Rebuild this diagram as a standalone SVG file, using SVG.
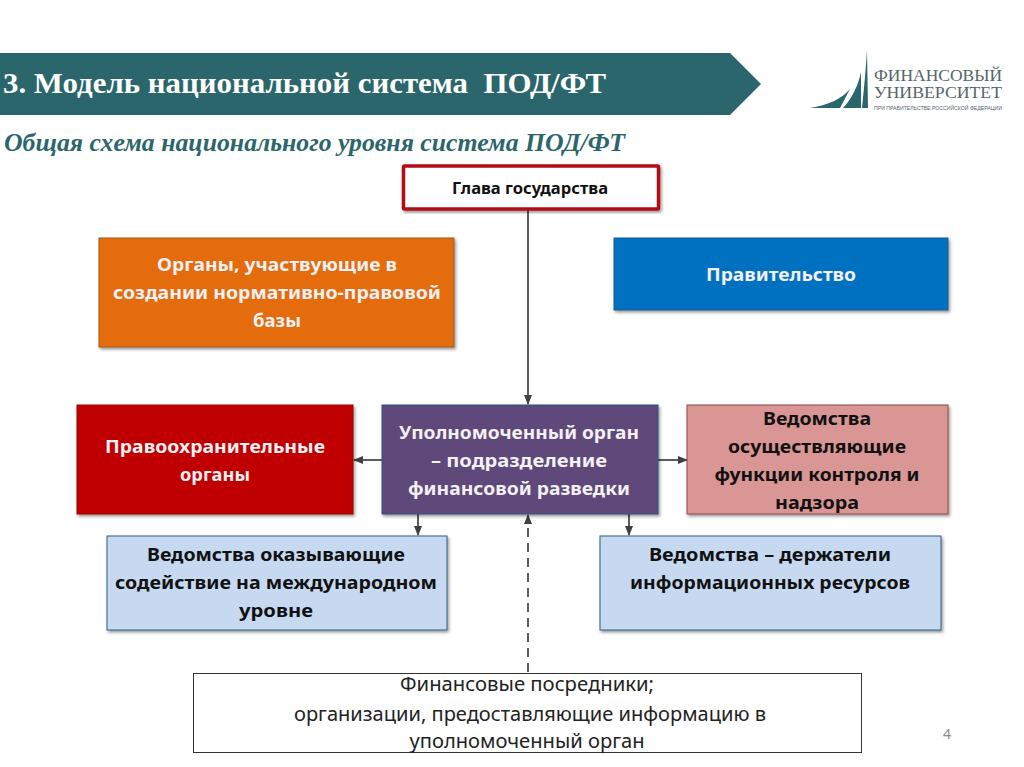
<svg xmlns="http://www.w3.org/2000/svg" width="1024" height="767" viewBox="0 0 1024 767">
<defs>
<filter id="sh" x="-5%" y="-5%" width="110%" height="115%"><feDropShadow dx="1.5" dy="2" stdDeviation="1.5" flood-color="#000" flood-opacity="0.4"/></filter>
<marker id="ah" markerWidth="10" markerHeight="8" refX="9" refY="4" orient="auto" markerUnits="userSpaceOnUse"><path d="M0 0L10 4L0 8Z" fill="#404040"/></marker>
</defs>
<style>
.b{font-family:"Noto Sans","Open Sans",sans-serif;font-weight:700;font-size:18px;text-anchor:middle}
.w{fill:#f4f0f4}.k{fill:#111}
.box{stroke-width:1;filter:url(#sh)}
.c{stroke:#333;stroke-width:1.6;fill:none;marker-end:url(#ah)}
.logo{font-family:"Liberation Serif",serif;fill:#55666a;text-anchor:start}
</style>
<rect width="1024" height="767" fill="#fff"/>
<g id="banner"><path d="M0 53H730L761 84L730 115H0Z" fill="#2b666c"/>
<text x="3" y="93" font-family="Liberation Serif,serif" font-weight="700" font-size="29" fill="#fff" textLength="603" lengthAdjust="spacingAndGlyphs">3. Модель национальной система&#160; ПОД/ФТ</text></g>
<text x="4" y="151" font-family="Liberation Serif,serif" font-weight="700" font-style="italic" font-size="25.500" fill="#2b666c" textLength="621" lengthAdjust="spacingAndGlyphs">Общая схема национального уровня система ПОД/ФТ</text>
<g id="logo">
<path d="M810 108C828 105 842 99 850 89L840 108Z" fill="#2b666c"/>
<path d="M843 108C852 98 858 86 861 72V108Z" fill="#2b666c"/>
<path d="M862 108C864 88 866 68 867 50L868 108Z" fill="#2b666c"/>
<text class="logo" x="874" y="81" font-size="16" textLength="128" lengthAdjust="spacingAndGlyphs">ФИНАНСОВЫЙ</text>
<text class="logo" x="874" y="98" font-size="16" textLength="128" lengthAdjust="spacingAndGlyphs">УНИВЕРСИТЕТ</text>
<text x="874" y="110" font-family="Liberation Sans,sans-serif" font-size="5.500" fill="#55666a" textLength="128" lengthAdjust="spacingAndGlyphs">ПРИ ПРАВИТЕЛЬСТВЕ РОССИЙСКОЙ ФЕДЕРАЦИИ</text>
</g>
<g id="connectors">
<path class="c" d="M528 210V404"/>
<path class="c" d="M382 460H354"/>
<path class="c" d="M658 460H687"/>
<path class="c" d="M418 514V535"/>
<path class="c" d="M629 514V535"/>
<path class="c" d="M528 672V515" stroke-dasharray="9 6"/>
</g>
<g id="n1"><rect class="box" x="403.500" y="166" width="255" height="43" rx="1" fill="#fff" stroke="#b00d14" style="stroke-width:3.500"/>
<text class="b k" x="530" y="194" style="font-size:15.500px" textLength="156" lengthAdjust="spacingAndGlyphs">Глава государства</text></g>
<g id="n2"><rect class="box" x="99" y="238" width="355" height="109" fill="#e46c0a" stroke="#9a5a20"/>
<text class="b w" x="277" y="271" textLength="240" lengthAdjust="spacingAndGlyphs">Органы, участвующие в</text>
<text class="b w" x="277" y="299" textLength="328" lengthAdjust="spacingAndGlyphs">создании нормативно-правовой</text>
<text class="b w" x="277" y="327" textLength="48" lengthAdjust="spacingAndGlyphs">базы</text></g>
<g id="n3"><rect class="box" x="614" y="238" width="334" height="72" fill="#0070c0" stroke="#1f5a8a"/>
<text class="b w" x="781" y="281" textLength="150" lengthAdjust="spacingAndGlyphs">Правительство</text></g>
<g id="n4"><rect class="box" x="77" y="405" width="276" height="109" fill="#c00000" stroke="#a00000"/>
<text class="b w" x="215" y="453" textLength="220" lengthAdjust="spacingAndGlyphs">Правоохранительные</text>
<text class="b w" x="215" y="481" textLength="70" lengthAdjust="spacingAndGlyphs">органы</text></g>
<g id="n5"><rect class="box" x="382" y="405" width="276" height="109" fill="#5f497a" stroke="#2f4f78"/>
<text class="b w" x="519" y="439" textLength="240" lengthAdjust="spacingAndGlyphs">Уполномоченный орган</text>
<text class="b w" x="519" y="467" textLength="176" lengthAdjust="spacingAndGlyphs">– подразделение</text>
<text class="b w" x="519" y="495" textLength="222" lengthAdjust="spacingAndGlyphs">финансовой разведки</text></g>
<g id="n6"><rect class="box" x="687" y="405" width="261" height="109" fill="#d99694" stroke="#8a4a48"/>
<text class="b k" x="817" y="425" textLength="108" lengthAdjust="spacingAndGlyphs">Ведомства</text>
<text class="b k" x="817" y="453" textLength="178" lengthAdjust="spacingAndGlyphs">осуществляющие</text>
<text class="b k" x="817" y="481" textLength="205" lengthAdjust="spacingAndGlyphs">функции контроля и</text>
<text class="b k" x="817" y="509" textLength="84" lengthAdjust="spacingAndGlyphs">надзора</text></g>
<g id="n7"><rect class="box" x="107" y="536" width="340" height="94" fill="#c6d9f1" stroke="#2f5f80"/>
<text class="b k" x="276" y="561" textLength="258" lengthAdjust="spacingAndGlyphs">Ведомства оказывающие</text>
<text class="b k" x="276" y="589" textLength="322" lengthAdjust="spacingAndGlyphs">содействие на международном</text>
<text class="b k" x="276" y="617" textLength="74" lengthAdjust="spacingAndGlyphs">уровне</text></g>
<g id="n8"><rect class="box" x="600" y="536" width="341" height="94" fill="#c6d9f1" stroke="#2f5f80"/>
<text class="b k" x="770" y="561" textLength="242" lengthAdjust="spacingAndGlyphs">Ведомства – держатели</text>
<text class="b k" x="770" y="589" textLength="280" lengthAdjust="spacingAndGlyphs">информационных ресурсов</text></g>
<g id="n9"><rect x="193.500" y="673.500" width="668" height="79" fill="#fff" stroke="#333"/>
<g font-family="Noto Sans,Open Sans,sans-serif" font-size="19" fill="#222" text-anchor="middle">
<text x="527" y="691" textLength="254" lengthAdjust="spacingAndGlyphs">Финансовые посредники;</text>
<text x="530" y="721" textLength="472" lengthAdjust="spacingAndGlyphs">организации, предоставляющие информацию в</text>
<text x="527" y="748" textLength="235" lengthAdjust="spacingAndGlyphs">уполномоченный орган</text></g></g>
<text x="947" y="739" font-family="Noto Sans,sans-serif" font-size="14" fill="#8c8c8c" text-anchor="middle">4</text>
</svg>
